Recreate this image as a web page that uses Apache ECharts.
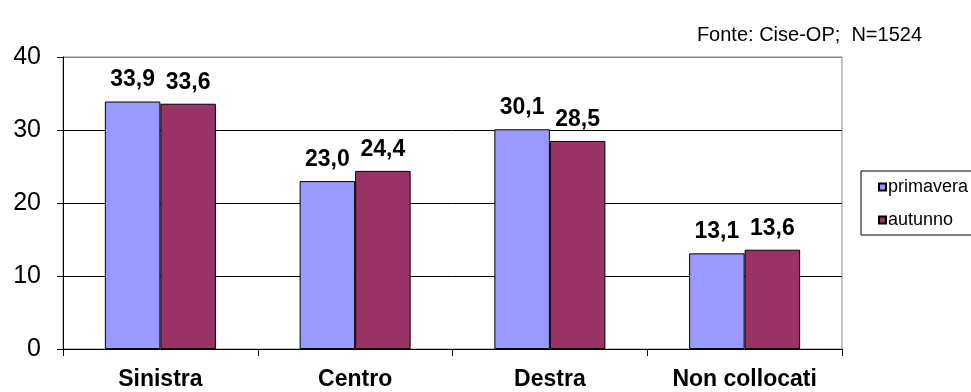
<!DOCTYPE html>
<html>
<head>
<meta charset="utf-8">
<script src="https://cdn.jsdelivr.net/npm/echarts@6/dist/echarts.min.js"></script>
<style>
    html, body { margin: 0; padding: 0; background: #fff; }
    #chart { width: 971px; height: 392px; }
</style>
</head>
<body>
<div id="chart"></div>
<script>
    // categories and values
    let categories = ["Sinistra", "Centro", "Destra", "Non collocati"];
    let primavera = [33.9, 23.0, 30.1, 13.1];
    let autunno = [33.6, 24.4, 28.5, 13.6];
    let seriesNames = ["primavera", "autunno"];
    let sourceNote = "Fonte: Cise-OP;  N=1524";

    let font = "'Liberation Sans', Arial, sans-serif";
    let myChart = echarts.init(document.getElementById('chart'));

    function commaLabel(p) {
        return p.value.toFixed(1).replace(".", ",");
    }

    function barSeries(name, data, color) {
        return {
            name: name,
            type: "bar",
            data: data,
            barGap: "0%",
            barCategoryGap: "43%",
            itemStyle: {
                color: color,
                borderColor: "#000",
                borderWidth: 1
            },
            label: {
                show: true,
                position: "top",
                distance: 10,
                formatter: commaLabel,
                fontFamily: font,
                fontWeight: "bold",
                fontSize: 23,
                color: "#000"
            }
        };
    }

    myChart.setOption({
        animation: false,
        graphic: [{
            type: "text",
            right: 49,
            top: 25,
            style: {
                text: sourceNote,
                fontFamily: font,
                fontSize: 20,
                fill: "#000"
            }
        }],
        legend: {
            orient: "vertical",
            left: 861,
            top: 171,
            padding: [6, 30, 5, 17],
            itemWidth: 7,
            itemHeight: 7,
            itemGap: 13,
            borderColor: "#000",
            borderWidth: 1,
            icon: "rect",
            textStyle: {
                fontFamily: font,
                fontSize: 18,
                lineHeight: 20,
                padding: [0, 0, 0, -3],
                color: "#000"
            },
            data: seriesNames
        },
        grid: {
            left: 63,
            right: 129,
            top: 57,
            bottom: 43,
            show: true,
            borderColor: "#888",
            borderWidth: 1
        },
        xAxis: {
            type: "category",
            data: categories,
            axisLine: {lineStyle: {color: "#000"}},
            axisTick: {show: true, length: 7, alignWithLabel: false, lineStyle: {color: "#000"}},
            axisLabel: {
                margin: 19,
                fontFamily: font,
                fontWeight: "bold",
                fontSize: 23,
                color: "#000"
            }
        },
        yAxis: {
            type: "value",
            min: 0,
            max: 40,
            interval: 10,
            axisLine: {show: true, lineStyle: {color: "#000"}},
            axisTick: {show: true, length: 6, lineStyle: {color: "#000"}},
            axisLabel: {
                margin: 22,
                fontFamily: font,
                fontSize: 25,
                color: "#000"
            },
            splitLine: {
                show: true,
                lineStyle: {color: ["#000", "#000", "#000", "#000", "#888"], width: 1}
            }
        },
        series: [
            barSeries(seriesNames[0], primavera, "#9999FF"),
            barSeries(seriesNames[1], autunno, "#993366")
        ]
    });
</script>
</body>
</html>
